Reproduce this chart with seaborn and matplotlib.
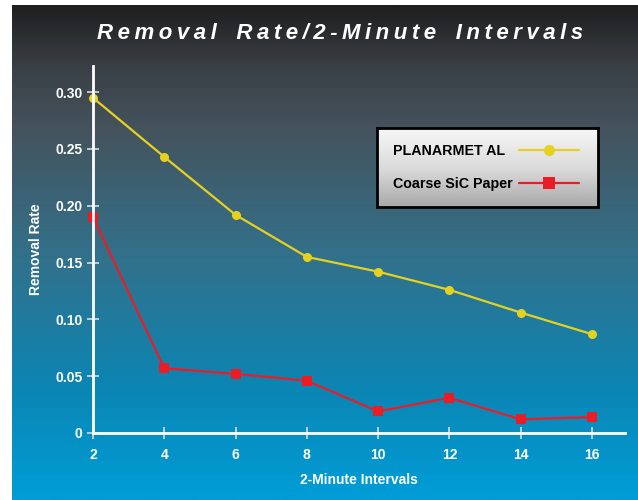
import numpy as np
import pandas as pd
import matplotlib
matplotlib.use("Agg")
import matplotlib.pyplot as plt
from matplotlib.colors import LinearSegmentedColormap
import seaborn as sns

# data
intervals = [2, 4, 6, 8, 10, 12, 14, 16]
planarmet = [0.295, 0.243, 0.192, 0.155, 0.142, 0.126, 0.106, 0.087]
coarse_sic = [0.190, 0.057, 0.052, 0.046, 0.019, 0.031, 0.012, 0.014]
series_names = ["PLANARMET AL", "Coarse SiC Paper"]
y_ticks = [0, 0.05, 0.10, 0.15, 0.20, 0.25, 0.30]
y_tick_labels = ["0", "0.05", "0.10", "0.15", "0.20", "0.25", "0.30"]

df = pd.DataFrame({
    "Interval": intervals * 2,
    "Rate": planarmet + coarse_sic,
    "Series": [series_names[0]] * len(intervals) + [series_names[1]] * len(intervals),
})

sns.set_theme(style="white")
plt.rcParams["font.family"] = ["Liberation Sans", "DejaVu Sans"]

fig = plt.figure(figsize=(6.38, 5.0), dpi=100)
fig.patch.set_facecolor("white")

# gradient background panel
bg = fig.add_axes([12 / 638, 0, 626 / 638, 495 / 500], zorder=-1)
bg_cmap = LinearSegmentedColormap.from_list(
    "bg", [(0.0, "#1e1e1e"), (0.12, "#3a3f45"), (0.25, "#45535d"),
           (0.5, "#33708a"), (0.78, "#0b86b4"), (1.0, "#009dd8")])
bg.imshow(np.linspace(0, 1, 256).reshape(-1, 1), aspect="auto", cmap=bg_cmap,
          extent=[0, 1, 0, 1], origin="upper")
bg.set_axis_off()

ax = fig.add_axes([93 / 638, 67 / 500, 532 / 638, 367 / 500])
ax.patch.set_alpha(0)

palette = {series_names[0]: "#e6d21e", series_names[1]: "#ea1d27"}
markers = {series_names[0]: "o", series_names[1]: "s"}
sns.lineplot(data=df, x="Interval", y="Rate", hue="Series", style="Series",
             palette=palette, markers=markers, dashes=False, linewidth=1.6,
             markersize=6.5, markeredgewidth=0, ax=ax, legend=False, clip_on=False)

ax.set_xlim(2, 16.93)
ax.set_ylim(0, 0.323)
ax.set_xticks(intervals)
ax.set_yticks(y_ticks)
ax.set_yticklabels(y_tick_labels)
for s in ["top", "right"]:
    ax.spines[s].set_visible(False)
for s in ["left", "bottom"]:
    ax.spines[s].set_color("white")
    ax.spines[s].set_linewidth(2)
ax.tick_params(axis="both", which="major", bottom=True, left=True,
               direction="inout", length=9, width=1.2,
               color="#d8dde0", labelcolor="white", labelsize=10)
for lab in ax.get_xticklabels() + ax.get_yticklabels():
    lab.set_fontweight("bold")
ax.tick_params(axis="x", pad=6)
ax.tick_params(axis="y", pad=3)

ax.set_xlabel("2-Minute Intervals", color="white", fontsize=10, fontweight="bold", labelpad=8)
ax.set_ylabel("Removal Rate", color="white", fontsize=10, fontweight="bold", labelpad=9)

# spaced-out title
title = "Removal Rate/2-Minute Intervals"
spaced = "\u2009".join(title).replace("\u2009 \u2009", "\u2009\u2009\u2009 ")
fig.text(340 / 638, 1 - 33 / 500, spaced, ha="center", va="center", color="white",
         fontsize=16, fontweight="heavy", fontstyle="italic")

# legend with gradient box
leg_box = [377 / 638, 1 - 207 / 500, 221 / 638, 79 / 500]
lg = fig.add_axes(leg_box, zorder=2)
lg_cmap = LinearSegmentedColormap.from_list("lg", ["#f7f7f7", "#dcdcdc", "#a9a9a9"])
lg.imshow(np.linspace(0, 1, 256).reshape(-1, 1), aspect="auto", cmap=lg_cmap,
          extent=[0, 1, 0, 1], origin="upper")
lg.set_xticks([])
lg.set_yticks([])
for s in lg.spines.values():
    s.set_color("black")
    s.set_linewidth(2)

# labels (left aligned) and handles (right side) as two legends
leg_prop = {"weight": "bold", "size": 10.3}
mid_y = leg_box[1] + leg_box[3] / 2
blank = [plt.Line2D([], [], linestyle="none") for n in series_names]
leg_text = fig.legend(blank, series_names, loc="center left",
                      bbox_to_anchor=(393 / 638, mid_y), borderaxespad=0, borderpad=0,
                      frameon=False, handlelength=0, handletextpad=0,
                      labelspacing=1.35, prop=leg_prop)
leg_text.set_zorder(5)

handles = [plt.Line2D([], [], color=palette[n], marker=markers[n], linewidth=1.6,
                      markersize=8, markeredgewidth=0) for n in series_names]
leg_marks = fig.legend(handles, [" ", " "], loc="center right",
                       bbox_to_anchor=(583 / 638, mid_y), borderaxespad=0, borderpad=0,
                       frameon=False, handlelength=4.2, handletextpad=0,
                       labelspacing=1.35, prop=leg_prop)
leg_marks.set_zorder(5)
for t in leg_text.get_texts():
    t.set_color("black")

fig.savefig("out.png", dpi=100)
